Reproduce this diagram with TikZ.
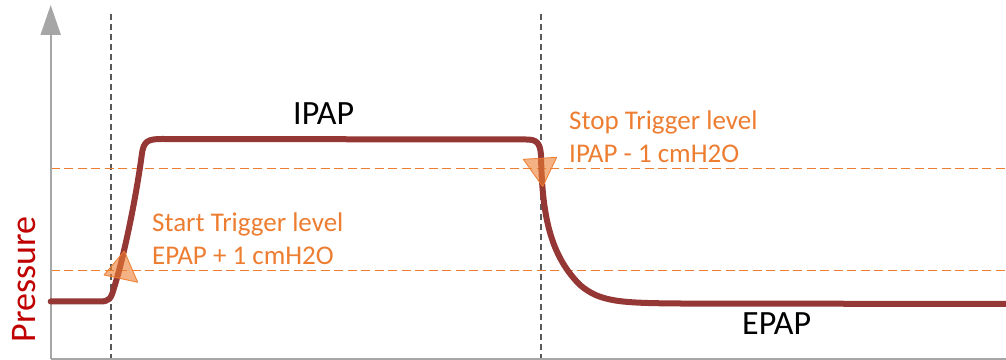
\documentclass[tikz,border=0pt]{standalone}
\usepackage{fontspec}
\setmainfont{Carlito}
\usetikzlibrary{arrows.meta}
\definecolor{curvered}{RGB}{149,55,52}
\definecolor{trigorange}{RGB}{237,125,49}
\definecolor{labelred}{RGB}{192,0,0}
\definecolor{axisgray}{RGB}{166,166,166}
\definecolor{markgray}{RGB}{89,89,89}
\begin{document}
\begin{tikzpicture}[>={Triangle[length=30bp,width=20bp]},line join=bevel,
  axis/.style={draw=axisgray,line width=2bp},
  marker/.style={draw=markgray,line width=1.3bp,dash pattern=on 6bp off 4bp},
  level/.style={draw=trigorange,line width=1.5bp,dash pattern=on 9bp off 4.5bp},
  trig/.style={draw=trigorange,line width=0.8bp,fill=trigorange,fill opacity=0.6},
  lbl/.style={inner sep=0pt,anchor=base west},
  orangetxt/.style={lbl,text=trigorange,align=left,font=\fontsize{27bp}{33bp}\selectfont},
]
\useasboundingbox (0bp,0bp) rectangle (1006bp,360bp);
%%
\coordinate (origin) at (50.7bp,1bp);
\coordinate (ytop) at (50.7bp,355bp);
\coordinate (xend) at (1006bp,1bp);
\coordinate (start_top) at (111bp,346bp);
\coordinate (start_bot) at (111bp,0bp);
\coordinate (stop_top) at (541bp,346bp);
\coordinate (stop_bot) at (541bp,0bp);
\coordinate (hi_l) at (50.7bp,191.7bp);
\coordinate (hi_r) at (1006bp,191.7bp);
\coordinate (lo_l) at (50.7bp,89.3bp);
\coordinate (lo_r) at (1006bp,89.3bp);
%
\draw [marker] (start_top) -- (start_bot);
\draw [marker] (stop_top) -- (stop_bot);
\draw [level] (hi_l) -- (hi_r);
\draw [level] (lo_l) -- (lo_r);
\draw [axis] (origin) -- (xend);
\draw [axis,->,color=axisgray] (origin) -- (ytop);
%
\draw [curvered,line width=6bp,line cap=round,line join=round] (50.7bp,58.5bp) -- (100bp,58.5bp)
  ..controls (109bp,58.5bp) and (111bp,61bp) .. (114bp,72bp)
  ..controls (126bp,110bp) and (138bp,175bp) .. (142bp,207bp)
  ..controls (144bp,219bp) and (148bp,221bp) .. (162bp,221bp)
  -- (526bp,220.5bp)
  ..controls (536bp,220.5bp) and (540bp,218bp) .. (541bp,205bp)
  ..controls (542bp,145bp) and (550bp,105bp) .. (580bp,75bp)
  ..controls (600bp,58bp) and (620bp,57bp) .. (680bp,56.5bp)
  -- (1006bp,56bp);
%
\draw [trig] (104bp,85bp) -- (137.7bp,77.7bp) -- (124.3bp,109bp) -- cycle;
\draw [trig] (523.3bp,200.7bp) -- (556.7bp,202.7bp) -- (542.7bp,173.3bp) -- cycle;
%
\node (node_ipap) at (293bp,235bp) [lbl,font=\fontsize{34bp}{40bp}\selectfont] {IPAP};
\node (node_epap) at (742bp,26bp) [lbl,font=\fontsize{34bp}{40bp}\selectfont] {EPAP};
\node (node_start) at (152bp,95bp) [orangetxt] {Start Trigger level\\EPAP + 1 cmH2O};
\node (node_stop) at (569bp,197.7bp) [orangetxt] {Stop Trigger level\\IPAP - 1 cmH2O};
\node (node_axis) at (35bp,80.5bp) [inner sep=0pt,anchor=base,rotate=90,text=labelred,font=\fontsize{36bp}{42bp}\selectfont] {Pressure};
%
\end{tikzpicture}
\end{document}
